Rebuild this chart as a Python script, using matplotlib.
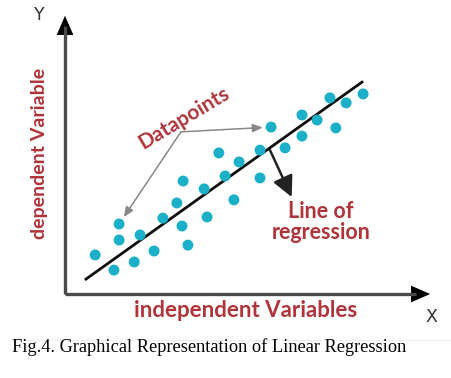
import matplotlib
matplotlib.use("Agg")
import matplotlib.pyplot as plt
from matplotlib.patches import FancyArrowPatch

# ---- data (arbitrary units: x = independent, y = dependent) ----
point_x = [0.82, 1.33, 1.47, 1.47, 1.88, 2.04, 2.42, 2.66, 3.04, 3.18, 3.21, 3.34,
           3.78, 3.86, 4.18, 4.35, 4.59, 4.73, 5.30, 5.30, 5.60, 5.98, 6.44, 6.44,
           6.85, 7.20, 7.36, 7.64, 8.10]
point_y = [1.39, 0.85, 2.49, 1.92, 1.14, 2.10, 1.53, 2.70, 3.24, 2.42, 4.02, 1.74,
           3.74, 2.74, 5.02, 4.20, 3.35, 4.70, 5.12, 4.13, 5.94, 5.20, 6.37, 5.62,
           6.19, 6.98, 5.91, 6.80, 7.12]
line_x = [0.57, 8.07]
line_y = [0.53, 7.54]

x_label = "independent Variables"
y_label = "dependent Variable"
points_label = "Datapoints"
line_label = "Line of\nregression"
caption = "Fig.4. Graphical Representation of Linear Regression"

W, H = 452, 378
fig = plt.figure(figsize=(W / 100, H / 100), dpi=100)
ax = fig.add_axes([65 / W, (H - 294) / H, 368 / W, 281 / H])
ax.set_xlim(0, 10)
ax.set_ylim(0, 10)
ax.axis("off")

red = "#b0343a"
cyan = "#1bb0c8"
font = "Lato"

# axes with arrows
axis_col = "#4a4a4a"
ax.plot([0, 9.55], [0, 0], color=axis_col, lw=2.4, solid_capstyle="butt", clip_on=False)
ax.plot([0, 0], [0, 9.55], color=axis_col, lw=2.4, solid_capstyle="butt", clip_on=False)
for (x0, y0, x1, y1) in [(9.3, 0, 10.0, 0), (0, 9.3, 0, 10.0)]:
    ax.add_patch(FancyArrowPatch((x0, y0), (x1, y1),
                                 arrowstyle="-|>,head_length=4.6,head_width=2.0",
                                 color="black", lw=0, mutation_scale=3,
                                 clip_on=False))

# regression line and points
ax.plot(line_x, line_y, color="#111111", lw=2.0, clip_on=False)
ax.scatter(point_x, point_y, s=62, color=cyan, edgecolors="none", zorder=3, clip_on=False)

# "Datapoints" annotation (gray lines to two points)
vertex = (3.15, 5.77)
for idx in (20, 2):
    ax.annotate("", xy=(point_x[idx], point_y[idx]), xytext=vertex,
                arrowprops=dict(arrowstyle="-|>,head_length=0.6,head_width=0.25",
                                color="#888888", lw=1.1, shrinkA=0, shrinkB=6,
                                mutation_scale=10),
                annotation_clip=False)
ax.text(3.23, 6.26, points_label, rotation=31, color=red, fontsize=15,
        fontfamily=font, fontweight="bold", ha="center", va="center")

# "Line of regression" arrow
ax.annotate("", xy=(6.16, 3.45), xytext=(5.57, 5.12),
            arrowprops=dict(arrowstyle="-|>,head_length=0.9,head_width=0.45",
                            color="#222222", lw=1.8, shrinkA=0, shrinkB=0,
                            mutation_scale=14),
            annotation_clip=False)
ax.text(6.96, 2.56, line_label, color=red, fontsize=15.5, fontfamily=font,
        fontweight="bold", ha="center", va="center", linespacing=1.0)

# axis labels
ax.text(4.92, -0.60, x_label, color=red, fontsize=16, fontfamily=font,
        fontweight="bold", ha="center", va="center")
ax.text(-0.70, 5.02, y_label, color=red, fontsize=14, fontfamily=font,
        fontweight="bold", rotation=90, ha="center", va="center")
ax.text(-0.71, 9.93, "Y", color="#333333", fontsize=12.5, fontfamily="DejaVu Sans",
        ha="center", va="center")
ax.text(9.97, -0.82, "X", color="#333333", fontsize=12.5, fontfamily="DejaVu Sans",
        ha="center", va="center")

# faint frame line above caption
fig.add_artist(plt.Line2D([12 / W, 1.0], [(H - 340) / H] * 2, color="#f0f0f0", lw=1))

fig.text(12 / W, (H - 347) / H, caption, fontfamily="Liberation Serif",
         fontsize=13.2, color="black", ha="left", va="center")

fig.savefig("out.png", dpi=100)
